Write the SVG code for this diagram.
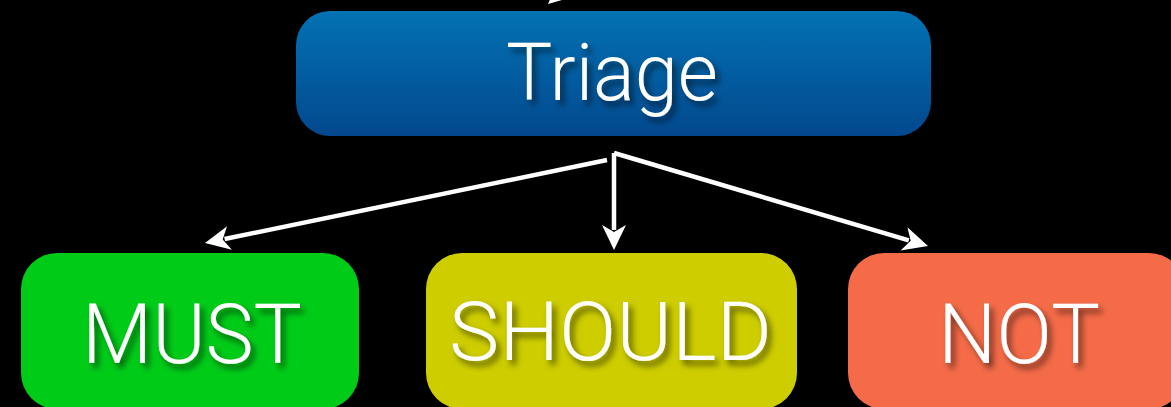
<svg xmlns="http://www.w3.org/2000/svg" width="1171" height="407" viewBox="0 0 1171 407">
  <defs>
    <linearGradient id="blueGrad" x1="0" y1="0" x2="0" y2="1">
      <stop offset="0" stop-color="#0272b3"/>
      <stop offset="1" stop-color="#03488e"/>
    </linearGradient>
    <filter id="txtShadow" x="-20%" y="-30%" width="140%" height="170%">
      <feDropShadow dx="4" dy="5" stdDeviation="3" flood-color="#000" flood-opacity="0.55"/>
    </filter>
    <marker id="arrow" markerUnits="userSpaceOnUse" markerWidth="40" markerHeight="40" refX="0" refY="0" orient="auto" overflow="visible">
      <path d="M20,0 L-5,-12 L2,0 L-5,12 Z" fill="#ffffff"/>
    </marker>
    <style>
      .lbl { font-family: Roboto, "Liberation Sans", Arial, sans-serif; font-weight: 300; fill: #ffffff; text-anchor: middle; filter: url(#txtShadow); }
      .conn { stroke: #ffffff; stroke-width: 4.5; fill: none; marker-end: url(#arrow); }
    </style>
  </defs>
  <rect x="0" y="0" width="1171" height="407" fill="#000000"/>

  <g id="connectors">
    <line class="conn" x1="620" y1="-60" x2="563" y2="-9.3"/>
    <line class="conn" x1="607" y1="160" x2="224.6" y2="239"/>
    <line class="conn" x1="614" y1="153" x2="614" y2="230"/>
    <line class="conn" x1="614" y1="153" x2="908.8" y2="240.3"/>
  </g>

  <g id="node-triage">
    <rect x="296" y="11" width="635" height="125" rx="34" ry="34" fill="url(#blueGrad)"/>
    <text class="lbl" x="612" y="100" font-size="80" textLength="212" lengthAdjust="spacingAndGlyphs">Triage</text>
  </g>

  <g id="node-must">
    <rect x="21" y="253" width="338" height="156" rx="36" ry="36" fill="#00cc18"/>
    <text class="lbl" x="192" y="363" font-size="84" textLength="220" lengthAdjust="spacingAndGlyphs">MUST</text>
  </g>

  <g id="node-should">
    <rect x="426" y="253" width="371" height="156" rx="36" ry="36" fill="#cdcd00"/>
    <text class="lbl" x="610.5" y="360" font-size="82" textLength="323" lengthAdjust="spacingAndGlyphs">SHOULD</text>
  </g>

  <g id="node-not">
    <rect x="848" y="253" width="337" height="156" rx="36" ry="36" fill="#f56b48"/>
    <text class="lbl" x="1019" y="363" font-size="84" textLength="162" lengthAdjust="spacingAndGlyphs">NOT</text>
  </g>
</svg>
